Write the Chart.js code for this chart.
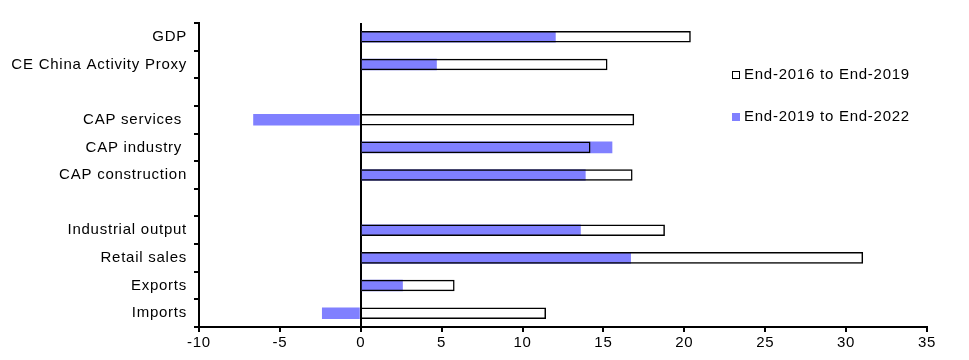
<!DOCTYPE html>
<html>
<head>
<meta charset="utf-8">
<script src="https://cdn.jsdelivr.net/npm/chart.js@4.4.1/dist/chart.umd.min.js"></script>
<style>
  html, body { margin: 0; padding: 0; background: #fff; }
  #wrap { position: relative; width: 969px; height: 360px; }
  .legend { position: absolute; left: 732px; font: 15px "Liberation Sans", Arial, sans-serif; letter-spacing: 0.75px; color: #000; line-height: 16px; white-space: nowrap; }
  .legend .box { display: inline-block; width: 8px; height: 8px; margin-right: 4px; box-sizing: border-box; vertical-align: 0px; }
</style>
</head>
<body>
<div id="wrap">
  <canvas id="chart" width="969" height="360"></canvas>
  <div class="legend" style="top:66px"><span class="box" style="border:1px solid #000;background:#fff"></span>End-2016 to End-2019</div>
  <div class="legend" style="top:108px"><span class="box" style="background:#8080ff"></span>End-2019 to End-2022</div>
</div>
<script>
const categories = ['GDP', 'CE China Activity Proxy', '', 'CAP services ', 'CAP industry ', 'CAP construction', '', 'Industrial output', 'Retail sales', 'Exports', 'Imports'];
const end2016to2019 = [20.4, 15.25, null, 16.9, 14.2, 16.8, null, 18.8, 31.05, 5.8, 11.45];
const end2019to2022 = [12.05, 4.7, null, -6.65, 15.55, 13.9, null, 13.6, 16.7, 2.6, -2.4];
const xTicks = { min: -10, max: 35, step: 5 };

Chart.defaults.font.family = '"Liberation Sans", Arial, sans-serif';
Chart.defaults.font.size = 15;
Chart.defaults.color = '#000';

// the original text is set a little looser than plain Arial
const spacing = {
    id: 'spacing',
    beforeLayout(c) { c.ctx.letterSpacing = '0.75px'; },
    beforeDraw(c) { c.ctx.letterSpacing = '0.75px'; }
};

new Chart(document.getElementById('chart'), {
    type: 'bar',
    data: {
        labels: categories,
        datasets: [{
            label: 'End-2016 to End-2019',
            data: end2016to2019,
            backgroundColor: 'rgba(255,255,255,0)',
            borderColor: '#000',
            borderWidth: 1.5,
            grouped: false,
            order: 0
        }, {
            label: 'End-2019 to End-2022',
            data: end2019to2022,
            backgroundColor: '#8080ff',
            borderWidth: 0,
            grouped: false,
            order: 1
        }]
    },
    options: {
        indexAxis: 'y',
        responsive: false,
        animation: false,
        devicePixelRatio: 1,
        barPercentage: 0.42,
        categoryPercentage: 1,
        layout: { padding: { top: 23, right: 42, left: 0, bottom: 0 } },
        plugins: { legend: { display: false }, tooltip: { enabled: false } },
        scales: {
            x: {
                min: xTicks.min,
                max: xTicks.max,
                z: 1,
                ticks: { stepSize: xTicks.step, padding: 2, maxRotation: 0 },
                border: { display: true, color: '#000', width: 2 },
                grid: {
                    drawOnChartArea: true,
                    color: c => (c.tick && c.tick.value === 0) ? '#000' : 'rgba(0,0,0,0)',
                    lineWidth: 2,
                    tickColor: '#000',
                    tickWidth: 2,
                    tickLength: 5
                },
                afterFit: s => { s.height = 33; }
            },
            y: {
                offset: true,
                ticks: { padding: 7, autoSkip: false },
                border: { display: true, color: '#000', width: 2 },
                grid: {
                    offset: true,
                    drawOnChartArea: false,
                    color: '#000',
                    lineWidth: 2,
                    tickLength: 5
                },
                afterFit: s => { s.width = 199; }
            }
        }
    },
    plugins: [spacing]
});
</script>
</body>
</html>
